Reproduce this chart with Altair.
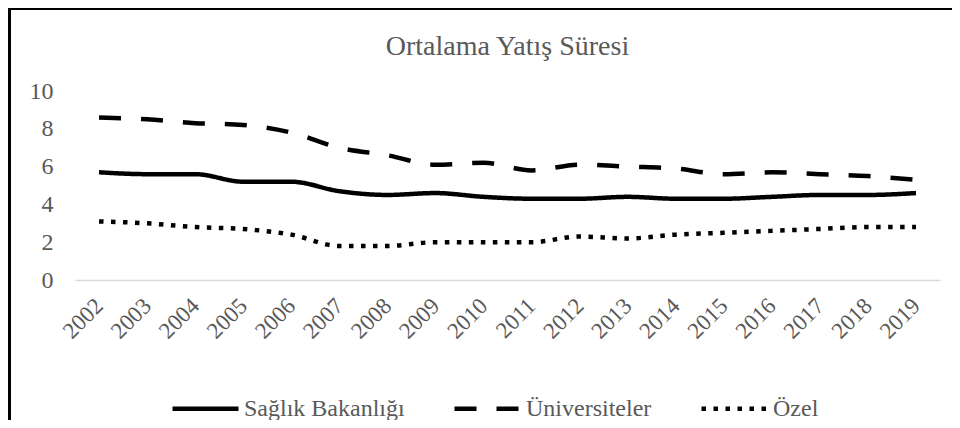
import altair as alt
import pandas as pd

years = [str(y) for y in range(2002, 2020)]
saglik = [5.7, 5.6, 5.6, 5.2, 5.2, 4.7, 4.5, 4.6, 4.4, 4.3, 4.3, 4.4, 4.3, 4.3, 4.4, 4.5, 4.5, 4.6]
univ = [8.6, 8.5, 8.3, 8.2, 7.8, 7.0, 6.6, 6.1, 6.2, 5.8, 6.1, 6.0, 5.9, 5.6, 5.7, 5.6, 5.5, 5.3]
ozel = [3.1, 3.0, 2.8, 2.7, 2.4, 1.8, 1.8, 2.0, 2.0, 2.0, 2.3, 2.2, 2.4, 2.5, 2.6, 2.7, 2.8, 2.8]
series = ["Sağlık Bakanlığı", "Üniversiteler", "Özel"]

rows = []
for name, vals in zip(series, [saglik, univ, ozel]):
    for y, v in zip(years, vals):
        rows.append({"Yıl": y, "Değer": v, "Seri": name})
df = pd.DataFrame(rows)

W, H = 865, 189
PAD = {"left": 67, "top": 83, "right": 12, "bottom": 140}
FONT = "Liberation Serif"
GRAY = "#595959"

lines = alt.Chart(df).mark_line(color="black", strokeWidth=4.5, interpolate="monotone", strokeCap="butt").encode(
    x=alt.X("Yıl:O", sort=years, scale=alt.Scale(type="point", padding=0.5),
            axis=alt.Axis(title=None, labelAngle=-45, labelAlign="right", labelBaseline="middle",
                          labelPadding=22, ticks=False, domainColor="#d9d9d9", domainWidth=1.5,
                          labelFont=FONT, labelFontSize=23, labelColor=GRAY, grid=False)),
    y=alt.Y("Değer:Q", scale=alt.Scale(domain=[0, 10]),
            axis=alt.Axis(title=None, values=[0, 2, 4, 6, 8, 10], ticks=False, domain=False, grid=False,
                          labelPadding=22, labelFont=FONT, labelFontSize=24, labelColor=GRAY)),
    strokeDash=alt.StrokeDash("Seri:N", sort=series,
                              scale=alt.Scale(domain=series, range=[[1, 0], [22, 20], [4.5, 7.5]]),
                              legend=alt.Legend(title=None, orient="none", direction="horizontal",
                                                legendX=95, legendY=282, labelLimit=400,
                                                symbolType="stroke", symbolSize=4356, symbolStrokeWidth=4.5,
                                                symbolStrokeColor="black", labelFont=FONT, labelFontSize=24,
                                                labelColor=GRAY, labelOffset=3, columnPadding=40)),
)

top_border = alt.Chart(df).mark_rule(color="black", strokeWidth=1.5).encode(
    x=alt.value(-PAD["left"]), x2=alt.value(W + PAD["right"]), y=alt.value(-PAD["top"] + 1))
left_border = alt.Chart(df).mark_rule(color="black", strokeWidth=2.5).encode(
    x=alt.value(-PAD["left"] + 1.5), y=alt.value(-PAD["top"]), y2=alt.value(H + PAD["bottom"]))

chart = alt.layer(lines, top_border, left_border).properties(
    width=W, height=H,
    padding=PAD,
    autosize=alt.AutoSizeParams(type="none"),
    title=alt.TitleParams("Ortalama Yatış Süresi", font=FONT, fontSize=28, fontWeight="normal",
                          color=GRAY, anchor="middle", baseline="alphabetic", offset=-76),
).configure(background="white", view=alt.ViewConfig(stroke="transparent", strokeWidth=0))

chart.save("out.html", embed_options={"renderer": "svg", "actions": False})
